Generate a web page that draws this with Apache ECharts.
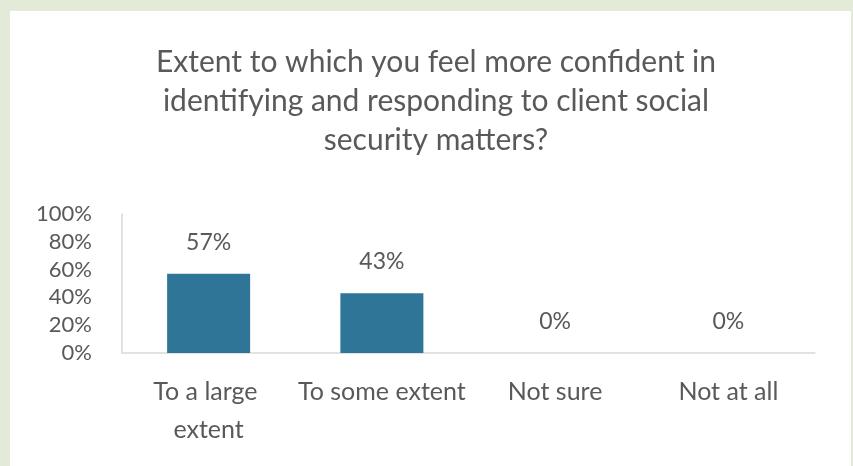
<!DOCTYPE html>
<html>
<head>
<meta charset="utf-8">
<script src="https://cdn.jsdelivr.net/npm/echarts@6/dist/echarts.min.js"></script>
<style>
  html, body { margin: 0; padding: 0; background: #e3ebd8; }
  #frame { position: absolute; left: 10px; top: 11px; width: 841px; height: 455px; background: #ffffff; }
  #chart { position: absolute; left: 0; top: 0; width: 853px; height: 466px; }
</style>
</head>
<body>
<div id="frame"></div>
<div id="chart"></div>
<script>
// Survey responses: share of respondents per answer
const categories = ['To a large extent', 'To some extent', 'Not sure', 'Not at all'];
const shares = [57, 43, 0, 0];
const yTicks = [0, 20, 40, 60, 80, 100];

const titleText = 'Extent to which you feel more confident in\nidentifying and responding to client social\nsecurity matters?';
const textColor = '#595959';
const fontFamily = 'Lato, "Noto Sans", sans-serif';

const chart = echarts.init(document.getElementById('chart'), null, { renderer: 'canvas' });
chart.setOption({
  backgroundColor: 'transparent',
  animation: false,
  textStyle: { fontFamily: fontFamily },
  title: {
    text: titleText,
    left: 431,
    top: 38,
    textAlign: 'center',
    textStyle: { fontFamily: fontFamily, fontSize: 30, fontWeight: 'normal', color: textColor, lineHeight: 39, align: 'center' }
  },
  grid: { left: 122, right: 38, top: 214, bottom: 113, containLabel: false },
  xAxis: {
    type: 'category',
    data: categories,
    axisLine: { show: true, lineStyle: { color: '#d9d9d9', width: 1.5 } },
    axisTick: { show: false },
    axisLabel: {
      interval: 0,
      margin: 20,
      width: 173,
      overflow: 'break',
      color: textColor,
      fontSize: 25,
      lineHeight: 38,
      fontFamily: fontFamily
    }
  },
  yAxis: {
    type: 'value',
    min: yTicks[0],
    max: yTicks[yTicks.length - 1],
    interval: yTicks[1] - yTicks[0],
    axisLine: { show: true, lineStyle: { color: '#d9d9d9', width: 1.5 } },
    axisTick: { show: false },
    splitLine: { show: false },
    axisLabel: {
      margin: 30,
      color: textColor,
      fontSize: 22,
      fontFamily: fontFamily,
      formatter: v => v + '%'
    }
  },
  series: [{
    type: 'bar',
    data: shares,
    barWidth: 83,
    itemStyle: { color: '#2e7597' },
    label: {
      show: true,
      position: 'top',
      distance: 20,
      color: textColor,
      fontSize: 23,
      fontFamily: fontFamily,
      formatter: p => p.value + '%'
    }
  }]
});
</script>
</body>
</html>
